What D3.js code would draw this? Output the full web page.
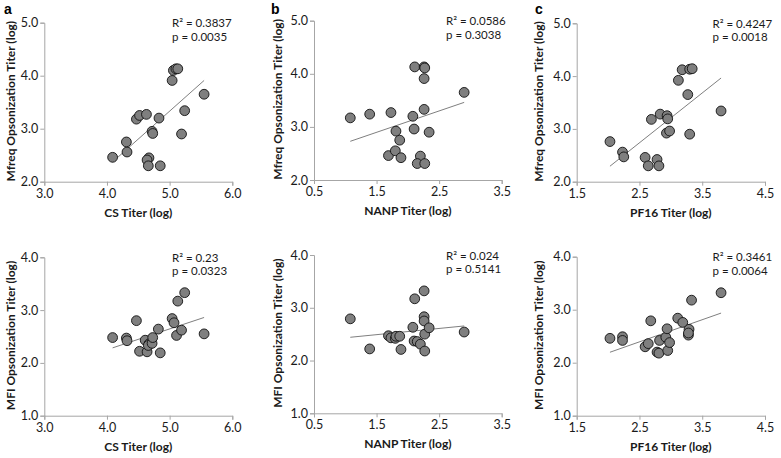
<!DOCTYPE html>
<html><head><meta charset="utf-8">
<script src="https://cdn.jsdelivr.net/npm/d3@7"></script>
<style>body{margin:0;background:#fff}svg{display:block}</style>
</head><body><svg id="chart" width="781" height="458"></svg>
<script>
// ---- data ----
const panelLetters = ["a", "b", "c"];
const xTitles = ["CS Titer (log)", "NANP Titer (log)", "PF16 Titer (log)"];
const yTitles = ["Mfreq Opsonization  Titer (log)", "MFI Opsonization  Titer (log)"];
const xTicksA = [3.0, 4.0, 5.0, 6.0];
const xTicksB = [0.5, 1.5, 2.5, 3.5];
const xTicksC = [1.5, 2.5, 3.5, 4.5];
const yTicksTop = [2.0, 3.0, 4.0, 5.0];
const yTicksBottom = [1.0, 2.0, 3.0, 4.0];
const r2Labels = [["R² = 0.3837", "R² = 0.0586", "R² = 0.4247"], ["R² = 0.23", "R² = 0.024", "R² = 0.3461"]];
const pLabels = [["p = 0.0035", "p = 0.3038", "p = 0.0018"], ["p = 0.0323", "p = 0.5141", "p = 0.0064"]];

const aTopX = [4.09,4.31,4.32,4.47,4.52,4.63,4.83,4.72,4.73,4.67,4.64,4.66,4.85,5.04,5.06,5.10,5.13,5.24,5.19,5.55];
const aTopY = [2.46,2.75,2.56,3.18,3.25,3.27,3.20,2.95,2.91,2.45,2.41,2.30,2.30,3.91,4.10,4.13,4.13,3.34,2.90,3.65];
const bTopX = [1.08,1.39,1.73,2.08,2.26,1.81,2.10,2.34,1.87,1.69,1.80,1.89,2.20,2.15,2.27,2.11,2.26,2.27,2.26,2.90];
const bTopY = [3.17,3.24,3.27,3.20,3.33,2.92,2.96,2.90,2.75,2.46,2.55,2.42,2.45,2.31,2.31,4.13,4.13,4.11,3.91,3.65];
const cTopX = [2.03,2.23,2.25,2.59,2.64,2.78,2.81,2.69,2.83,2.94,2.95,2.93,2.98,3.12,3.18,3.30,3.34,3.27,3.30,3.80];
const cTopY = [2.76,2.56,2.47,2.46,2.30,2.42,2.30,3.18,3.28,3.25,3.19,2.92,2.96,3.92,4.12,4.13,4.14,3.65,2.90,3.34];
const aBotX = [4.09,4.31,4.32,4.47,4.52,4.61,4.64,4.67,4.66,4.72,4.73,4.82,4.85,5.04,5.07,5.11,5.13,5.19,5.24,5.55];
const aBotY = [2.48,2.47,2.42,2.80,2.22,2.43,2.21,2.36,2.33,2.37,2.48,2.64,2.19,2.84,2.76,2.52,3.17,2.62,3.33,2.55];
const bBotX = [1.08,1.39,1.69,1.73,1.80,1.81,1.87,1.89,2.08,2.10,2.11,2.15,2.20,2.26,2.26,2.26,2.27,2.27,2.34,2.90];
const bBotY = [2.79,2.22,2.47,2.43,2.42,2.46,2.46,2.21,2.63,2.37,3.17,2.36,2.31,3.32,2.83,2.75,2.50,2.18,2.62,2.54];
const cBotX = [2.03,2.23,2.23,2.59,2.64,2.68,2.78,2.81,2.82,2.92,2.94,2.95,2.98,3.11,3.19,3.28,3.29,3.33,3.28,3.80];
const cBotY = [2.46,2.49,2.42,2.30,2.36,2.79,2.20,2.18,2.42,2.48,2.64,2.23,2.38,2.84,2.76,2.52,2.63,3.18,2.56,3.32];

// ---- layout ----
const colX = [[44.3, 232.3], [314, 501.7], [576.7, 765]];
const rowYTop = [[181.7, 22.7], [180, 20.7], [181.7, 23.3]];
const rowYBot = [[415.7, 257.3], [413.3, 255], [415.7, 256.7]];
const letterX = [4, 271, 535];
const yTitleX = [14.5, 281.5, 542.5];
const textX = [172, 446, 712.5];

const xTickSets = [xTicksA, xTicksB, xTicksC];
const series = [
  [[aTopX, aTopY], [bTopX, bTopY], [cTopX, cTopY]],
  [[aBotX, aBotY], [bBotX, bBotY], [cBotX, cBotY]]
];
const FONT = "Lato, 'Open Sans', sans-serif";
const AXIS = "#a6a6a6";

const svg = d3.select("#chart");

function regress(xs, ys) {
  const mx = d3.mean(xs), my = d3.mean(ys);
  let sxy = 0, sxx = 0;
  xs.forEach((x, i) => { sxy += (x - mx) * (ys[i] - my); sxx += (x - mx) ** 2; });
  const b = sxy / sxx;
  return { b, a: my - b * mx };
}

for (let row = 0; row < 2; row++) {
  for (let col = 0; col < 3; col++) {
    const xt = xTickSets[col];
    const yt = row === 0 ? yTicksTop : yTicksBottom;
    const yr = row === 0 ? rowYTop[col] : rowYBot[col];
    const x = d3.scaleLinear().domain([xt[0], xt[xt.length - 1]]).range(colX[col]);
    const y = d3.scaleLinear().domain([yt[0], yt[yt.length - 1]]).range(yr);
    const g = svg.append("g");

    const xAxis = g.append("g").attr("transform", `translate(0,${yr[0]})`)
      .call(d3.axisBottom(x).tickValues(xt).tickFormat(d3.format(".1f")).tickSize(4).tickPadding(3));
    const yAxis = g.append("g").attr("transform", `translate(${colX[col][0]},0)`)
      .call(d3.axisLeft(y).tickValues(yt).tickFormat(d3.format(".1f")).tickSize(4).tickPadding(2));
    [xAxis, yAxis].forEach(ax => {
      ax.selectAll("path,line").attr("stroke", AXIS).attr("stroke-width", 1);
      ax.selectAll("text").attr("fill", "#1a1a1a").style("font-family", FONT).style("font-size", "12.5px");
    });

    const [xs, ys] = series[row][col];
    const fit = regress(xs, ys);
    const xmin = d3.min(xs), xmax = d3.max(xs);
    g.append("line")
      .attr("x1", x(xmin)).attr("y1", y(fit.a + fit.b * xmin))
      .attr("x2", x(xmax)).attr("y2", y(fit.a + fit.b * xmax))
      .attr("stroke", "#7f7f7f").attr("stroke-width", 1);

    g.selectAll("circle").data(xs.map((v, i) => [v, ys[i]])).join("circle")
      .attr("cx", d => x(d[0])).attr("cy", d => y(d[1])).attr("r", 4.9)
      .attr("fill", "#7f7f7f").attr("stroke", "#111").attr("stroke-width", 0.9);

    const baseY = yr[1];
    g.append("text").attr("x", textX[col]).attr("y", baseY + 4.5)
      .style("font-family", FONT).style("font-size", "11.5px").attr("fill", "#1a1a1a")
      .text(r2Labels[row][col]);
    g.append("text").attr("x", textX[col]).attr("y", baseY + 18)
      .style("font-family", FONT).style("font-size", "11.5px").attr("fill", "#1a1a1a")
      .text(pLabels[row][col]);

    g.append("text").attr("x", (colX[col][0] + colX[col][1]) / 2).attr("y", yr[0] + 35)
      .attr("text-anchor", "middle").style("font-family", FONT).style("font-size", "12px")
      .style("font-weight", "bold").attr("fill", "#1a1a1a").text(xTitles[col]);

    const yc = (yr[0] + yr[1]) / 2 - 1;
    g.append("text").attr("transform", `translate(${yTitleX[col]},${yc}) rotate(-90)`)
      .attr("text-anchor", "middle").style("font-family", FONT).style("font-size", "12px")
      .style("font-weight", "bold").attr("fill", "#1a1a1a").text(yTitles[row]);

    if (row === 0) {
      svg.append("text").attr("x", letterX[col]).attr("y", 14)
        .style("font-family", "'Liberation Sans', Arial, sans-serif").style("font-size", "14px")
        .style("font-weight", "bold").attr("fill", "#000").text(panelLetters[col]);
    }
  }
}
</script></body></html>
